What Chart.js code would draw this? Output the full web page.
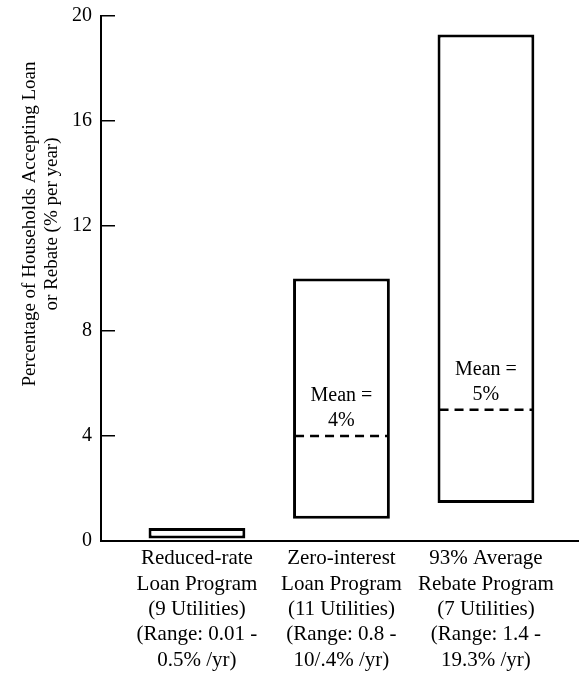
<!DOCTYPE html>
<html>
<head>
<meta charset="utf-8">
<script src="https://cdn.jsdelivr.net/npm/chart.js@4"></script>
<style>
  html, body { margin: 0; padding: 0; background: #fff; overflow: hidden; }
  #wrap { width: 579px; height: 677px; position: relative; }
</style>
</head>
<body>
<div id="wrap"><canvas id="myChart"></canvas></div>
<script>
// data
const categories = [
  ["Reduced-rate", "Loan Program", "(9 Utilities)", "(Range: 0.01 -", "0.5% /yr)"],
  ["Zero-interest", "Loan Program", "(11 Utilities)", "(Range: 0.8 -", "10/.4% /yr)"],
  ["93% Average", "Rebate Program", "(7 Utilities)", "(Range: 1.4 -", "19.3% /yr)"]
];
const rangeLow = [0.1, 0.85, 1.45];
const rangeHigh = [0.5, 10, 19.3];
const means = [null, 4, 5];
const yTicks = [0, 4, 8, 12, 16, 20];
const yTitle = ["Percentage of Households Accepting Loan", "or Rebate (% per year)"];

const FONT = "'Liberation Serif', 'DejaVu Serif', serif";

// dashed mean line + "Mean = x%" label inside each bar
const meanPlugin = {
  id: "meanLines",
  afterDatasetsDraw(chart) {
    const ctx = chart.ctx;
    const yScale = chart.scales.y;
    const meta = chart.getDatasetMeta(0);
    meta.data.forEach((bar, i) => {
      if (means[i] == null) return;
      const y = yScale.getPixelForValue(means[i]);
      const half = bar.width / 2;
      ctx.save();
      ctx.strokeStyle = "#000";
      ctx.lineWidth = 2.5;
      ctx.setLineDash([9, 6]);
      ctx.beginPath();
      ctx.moveTo(bar.x - half + 2, y);
      ctx.lineTo(bar.x + half - 2, y);
      ctx.stroke();
      ctx.setLineDash([]);
      ctx.fillStyle = "#000";
      ctx.font = "20px " + FONT;
      ctx.textAlign = "center";
      ctx.textBaseline = "middle";
      ctx.fillText("Mean =", bar.x, y - 40);
      ctx.fillText(means[i] + "%", bar.x, y - 15);
      ctx.restore();
    });
  }
};

// rotated two-line y axis title
const yTitlePlugin = {
  id: "yTitle",
  afterDraw(chart) {
    const ctx = chart.ctx;
    ctx.save();
    ctx.fillStyle = "#000";
    ctx.font = "19px " + FONT;
    ctx.textAlign = "center";
    ctx.textBaseline = "middle";
    ctx.translate(30, 224);
    ctx.rotate(-Math.PI / 2);
    ctx.fillText(yTitle[0], 0, 0);
    ctx.fillText(yTitle[1], 0, 22);
    ctx.restore();
  }
};

const barData = categories.map((c, i) => ({ x: i, y: [rangeLow[i], rangeHigh[i]] }));

new Chart(document.getElementById("myChart"), {
  type: "bar",
  data: {
    datasets: [{
      data: barData,
      backgroundColor: "#fff",
      borderColor: "#000",
      borderWidth: 3,
      borderSkipped: false,
      barPercentage: 0.67,
      categoryPercentage: 1
    }]
  },
  options: {
    responsive: true,
    maintainAspectRatio: false,
    animation: false,
    layout: { padding: { top: 16, right: 0, bottom: 0, left: 0 } },
    plugins: { legend: { display: false }, tooltip: { enabled: false } },
    scales: {
      x: {
        type: "linear",
        offset: false,
        min: -0.664,
        max: 2.644,
        afterBuildTicks: (axis) => { axis.ticks = categories.map((c, i) => ({ value: i })); },
        afterFit: (axis) => {
          axis.height = 136;
          axis.paddingLeft = 0;
          axis.paddingRight = 0;
        },
        grid: { display: false, drawTicks: false, offset: false },
        border: { display: true, color: "#000", width: 2 },
        ticks: {
          color: "#000",
          padding: 5,
          maxRotation: 0,
          autoSkip: false,
          font: { family: FONT, size: 21, lineHeight: 1.21 },
          callback: (v) => categories[v]
        }
      },
      y: {
        min: 0,
        max: 20,
        afterBuildTicks: (axis) => { axis.ticks = yTicks.map(v => ({ value: v })); },
        afterFit: (axis) => {
          axis.width = 101;
          axis.paddingTop = 0;
          axis.paddingBottom = 0;
        },
        grid: { drawOnChartArea: false, color: "#000", lineWidth: 1.5, tickLength: -14 },
        border: { display: true, color: "#000", width: 2 },
        ticks: {
          color: "#000",
          padding: 23,
          font: { family: FONT, size: 20 }
        }
      }
    }
  },
  plugins: [meanPlugin, yTitlePlugin]
});
</script>
</body>
</html>
